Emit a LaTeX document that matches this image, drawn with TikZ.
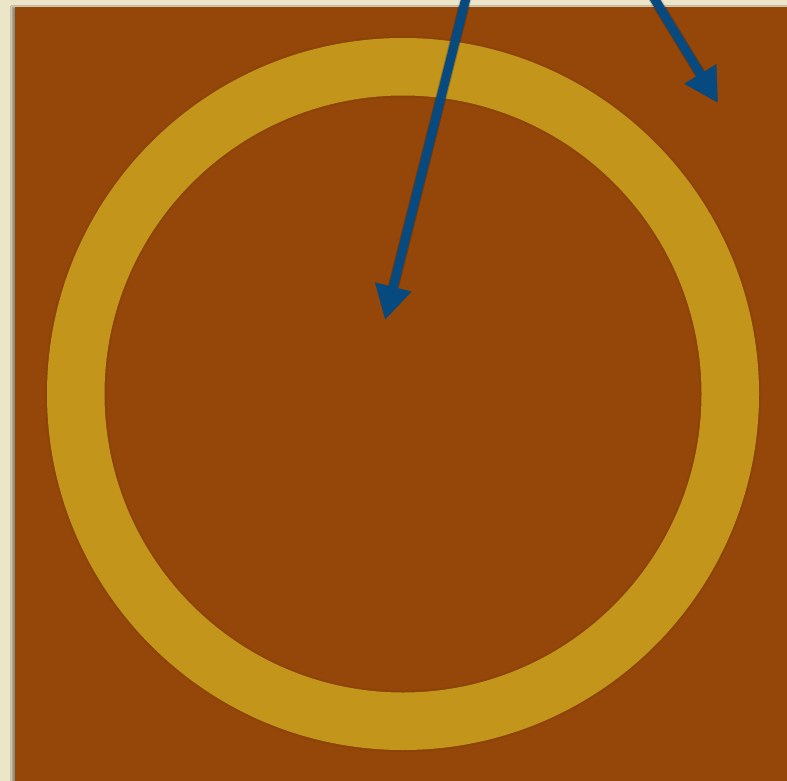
\documentclass[tikz,border=0pt]{standalone}
\usepackage{tikz}
\usetikzlibrary{arrows.meta,shadows.blur}

\definecolor{paper}{HTML}{EDE5C8}
\definecolor{rust}{HTML}{954709}
\definecolor{ochre}{HTML}{C3951A}
\definecolor{navy}{HTML}{064A80}

\begin{document}
\begin{tikzpicture}[x=1pt, y=-1pt,
        pointer/.style={navy, line width=9pt,
            -{Triangle[length=34pt, width=35pt]}},
        pointer shade/.style={black, opacity=0.2, line width=11pt,
            -{Triangle[length=34pt, width=35pt]}, shift={(2,2)}}]
        % --- 1. Parameters ---
        \def\ringR{356}
        \def\ringr{298.5}

        % --- 2. Page and board ---
        \fill[paper] (0,0) rectangle (787,781);
        \useasboundingbox (0,0) rectangle (787,781);
        \fill[rust, blur shadow={shadow xshift=-3pt, shadow yshift=0pt, shadow blur steps=5, shadow opacity=40}]
            (15,7) rectangle (800,800);

        % --- 3. Ring ---
        \coordinate (C) at (403,394);
        \fill[rust!80!black, opacity=0.25, even odd rule]
            (C) circle (\ringR+2) (C) circle (\ringr-2);
        \fill[ochre, even odd rule] (C) circle (\ringR) (C) circle (\ringr);

        % --- 4. Arrows ---
        \coordinate (TopA) at (468,-10);
        \coordinate (TipA) at (385,320);
        \coordinate (TopB) at (646,-15);
        \coordinate (TipB) at (718,103);
        \draw[pointer shade] (TopA) -- (TipA);
        \draw[pointer shade] (TopB) -- (TipB);
        \draw[pointer] (TopA) -- (TipA);
        \draw[pointer] (TopB) -- (TipB);
    \end{tikzpicture}
\end{document}
